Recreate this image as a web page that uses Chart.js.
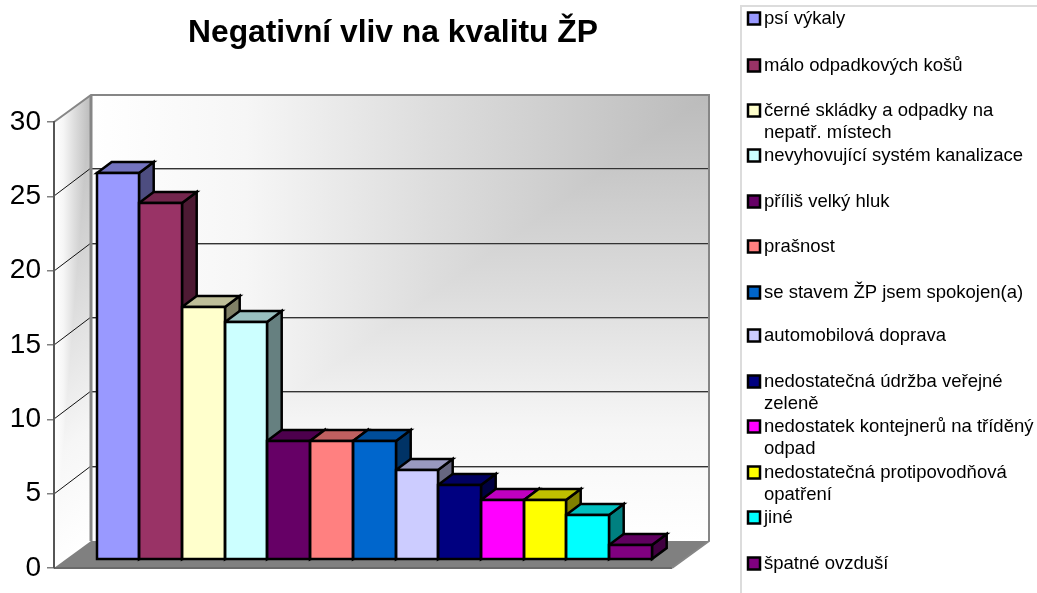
<!DOCTYPE html>
<html lang="cs">
<head>
<meta charset="utf-8">
<title>Negativní vliv na kvalitu ŽP</title>
<script src="https://cdn.jsdelivr.net/npm/chart.js@4/dist/chart.umd.min.js"></script>
<style>
html,body{margin:0;padding:0;background:#fff;overflow:hidden}
canvas{display:block}
</style>
</head>
<body>
<canvas id="c" width="1037" height="593"></canvas>
<script>
const chartTitle = 'Negativní vliv na kvalitu ŽP';
const categories = [''];
const seriesNames = [
  'psí výkaly',
  'málo odpadkových košů',
  'černé skládky a odpadky na\nnepatř. místech',
  'nevyhovující systém kanalizace',
  'příliš velký hluk',
  'prašnost',
  'se stavem ŽP jsem spokojen(a)',
  'automobilová doprava',
  'nedostatečná údržba veřejné\nzeleně',
  'nedostatek kontejnerů na tříděný\nodpad',
  'nedostatečná protipovodňová\nopatření',
  'jiné',
  'špatné ovzduší'
];
const seriesValues = [26, 24, 17, 16, 8, 8, 8, 6, 5, 4, 4, 3, 1];
const seriesColors = ['#9999FF','#993366','#FFFFCC','#CCFFFF','#660066','#FF8080','#0066CC','#CCCCFF','#000080','#FF00FF','#FFFF00','#00FFFF','#800080'];
const legendRowCenters = [18, 65, 110, 155, 201, 246, 292, 335, 381, 426, 472, 517, 563];

// 3D geometry (styling only)
const WALL = {dx: 37, dy: -27};
const BAR_PLANE = {dx: 11.2, dy: -8.3};
const BAR_DEPTH = {dx: 14.7, dy: -11};
const EDGE = 2.5;
const FONT = "'Liberation Sans', Arial, sans-serif";

function shade(hex, f) {
  const n = parseInt(hex.slice(1), 16);
  const c = s => Math.round(((n >> s) & 255) * f);
  return 'rgb(' + c(16) + ',' + c(8) + ',' + c(0) + ')';
}
function poly(ctx, pts) {
  ctx.beginPath();
  pts.forEach((p, i) => i ? ctx.lineTo(p[0], p[1]) : ctx.moveTo(p[0], p[1]));
  ctx.closePath();
}
function wallStops(g) {
  g.addColorStop(0, '#bbbbbb');
  g.addColorStop(0.45, '#dddddd');
  g.addColorStop(0.75, '#f6f6f6');
  g.addColorStop(1, '#ffffff');
  return g;
}
function barEdges(el) {
  return {
    l: Math.round(el.x - el.width / 2 + BAR_PLANE.dx),
    r: Math.round(el.x + el.width / 2 + BAR_PLANE.dx),
    top: Math.round(el.y + BAR_PLANE.dy),
    base: Math.round(el.base + BAR_PLANE.dy)
  };
}

const scene3d = {
  id: 'scene3d',
  afterLayout(chart) {
    chart.titleBlock.left = 0;
    chart.titleBlock.right = 786;
  },
  beforeDraw(chart) {
    const {ctx, chartArea: a, scales} = chart;
    const L = a.left, R = a.right, T = a.top, B = a.bottom;
    const bl = L + WALL.dx, br = R + WALL.dx, bt = T + WALL.dy, bb = B + WALL.dy;

    ctx.save();
    ctx.fillStyle = '#fff';
    ctx.fillRect(0, 0, chart.width, chart.height);

    // back wall: corner gradient from the top right
    ctx.fillStyle = wallStops(ctx.createLinearGradient(0, bt, 0, bb));
    ctx.fillRect(bl, bt, br - bl, bb - bt);
    ctx.save();
    poly(ctx, [[bl, bt], [br, bt], [bl, bb]]);
    ctx.clip();
    ctx.fillStyle = wallStops(ctx.createLinearGradient(br, 0, bl, 0));
    ctx.fillRect(bl, bt, br - bl, bb - bt);
    ctx.restore();

    // left side wall, sheared into place
    ctx.save();
    ctx.transform(1, WALL.dy / WALL.dx, 0, 1, 0, -L * WALL.dy / WALL.dx);
    ctx.fillStyle = wallStops(ctx.createLinearGradient(0, T, 0, B));
    ctx.fillRect(L, T, WALL.dx, B - T);
    ctx.save();
    poly(ctx, [[L, T], [bl, T], [L, B]]);
    ctx.clip();
    ctx.fillStyle = wallStops(ctx.createLinearGradient(bl, 0, L, 0));
    ctx.fillRect(L, T, WALL.dx, B - T);
    ctx.restore();
    ctx.restore();

    // floor
    ctx.fillStyle = '#808080';
    poly(ctx, [[L, B], [R, B], [br, bb], [bl, bb]]);
    ctx.fill();
    ctx.strokeStyle = '#6a6a6a';
    ctx.lineWidth = 2;
    ctx.beginPath(); ctx.moveTo(L, B); ctx.lineTo(R, B); ctx.stroke();

    // gridlines from the value scale
    scales.y.ticks.forEach(t => {
      if (t.value === 0 || t.value === scales.y.max) return;
      const y = Math.round(scales.y.getPixelForValue(t.value));
      const by = y + WALL.dy - 1;
      ctx.strokeStyle = '#111';
      ctx.lineWidth = 1;
      ctx.beginPath(); ctx.moveTo(L, y); ctx.lineTo(bl, by); ctx.stroke();
      ctx.strokeStyle = '#333';
      ctx.beginPath(); ctx.moveTo(bl, by + 0.5); ctx.lineTo(br, by + 0.5); ctx.stroke();
      ctx.strokeStyle = '#a8a8a8';
      ctx.beginPath(); ctx.moveTo(bl, by + 1.5); ctx.lineTo(br, by + 1.5); ctx.stroke();
    });

    // wall edges
    ctx.strokeStyle = '#868686';
    ctx.lineWidth = 2;
    ctx.beginPath();
    ctx.moveTo(L, T); ctx.lineTo(bl, bt); ctx.lineTo(br, bt); ctx.lineTo(br, bb); ctx.lineTo(R, B);
    ctx.stroke();
    ctx.lineWidth = 3;
    ctx.beginPath(); ctx.moveTo(bl, bt); ctx.lineTo(bl, bb); ctx.stroke();
    ctx.restore();
  },
  beforeDatasetsDraw(chart) {
    const {ctx} = chart;
    ctx.save();
    // side and top faces, painted left to right, below the front faces
    chart.data.datasets.forEach((ds, i) => {
      const {l, r, top, base} = barEdges(chart.getDatasetMeta(i).data[0]);
      const col = ds.backgroundColor;
      ctx.lineWidth = EDGE;
      ctx.strokeStyle = '#000';
      ctx.lineJoin = 'miter';
      poly(ctx, [[r, top], [r + BAR_DEPTH.dx, top + BAR_DEPTH.dy], [r + BAR_DEPTH.dx, base + BAR_DEPTH.dy], [r, base]]);
      ctx.fillStyle = shade(col, 0.5);
      ctx.fill(); ctx.stroke();
      poly(ctx, [[l, top], [r, top], [r + BAR_DEPTH.dx, top + BAR_DEPTH.dy], [l + BAR_DEPTH.dx, top + BAR_DEPTH.dy]]);
      ctx.fillStyle = shade(col, 0.75);
      ctx.fill(); ctx.stroke();
    });
    ctx.restore();
    // fronts are drawn by Chart.js inside the bar plane
    ctx.save();
    ctx.translate(BAR_PLANE.dx, BAR_PLANE.dy);
  },
  afterDatasetsDraw(chart) {
    const {ctx} = chart;
    ctx.restore();
    // single shared outline between the touching front faces
    ctx.save();
    ctx.strokeStyle = '#000';
    ctx.lineWidth = EDGE;
    chart.data.datasets.forEach((ds, i) => {
      const {l, r, top, base} = barEdges(chart.getDatasetMeta(i).data[0]);
      ctx.strokeRect(l, top, r - l, base - top);
    });
    ctx.restore();
  },
  afterDraw(chart) {
    const {ctx} = chart;
    ctx.save();
    // legend frame
    ctx.strokeStyle = '#dcdcdc';
    ctx.lineWidth = 2;
    ctx.beginPath();
    ctx.moveTo(741, chart.height); ctx.lineTo(741, 6); ctx.lineTo(chart.width, 6);
    ctx.stroke();
    // legend rows
    ctx.font = '18.5px ' + FONT;
    ctx.textBaseline = 'middle';
    ctx.textAlign = 'left';
    chart.data.datasets.forEach((ds, i) => {
      const y = legendRowCenters[i];
      ctx.fillStyle = ds.backgroundColor;
      ctx.fillRect(748, y - 5.5, 12, 12);
      ctx.strokeStyle = '#000';
      ctx.lineWidth = EDGE;
      ctx.strokeRect(748, y - 5.5, 12, 12);
      ctx.fillStyle = '#000';
      seriesNames[i].split('\n').forEach((line, k) => ctx.fillText(line, 764, y + 0.5 + k * 22.7));
    });
    ctx.restore();
  }
};

new Chart(document.getElementById('c'), {
  type: 'bar',
  data: {
    labels: categories,
    datasets: seriesNames.map((name, i) => ({
      label: name.replace('\n', ' '),
      data: [seriesValues[i]],
      backgroundColor: seriesColors[i],
      borderWidth: 0,
      clip: false,
      categoryPercentage: 0.898,
      barPercentage: 1
    }))
  },
  options: {
    responsive: false,
    animation: false,
    devicePixelRatio: 1,
    layout: {autoPadding: false, padding: {left: 0, right: 365, top: 0, bottom: 25}},
    scales: {
      x: {display: false},
      y: {
        min: 0, max: 30,
        afterFit(s) { s.width = 54; },
        ticks: {stepSize: 5, padding: 6, color: '#000', font: {family: FONT, size: 28}},
        grid: {drawOnChartArea: false, drawTicks: true, tickLength: 7, color: '#808080', lineWidth: 1.5},
        border: {display: true, color: '#555', width: 2}
      }
    },
    plugins: {
      legend: {display: false},
      tooltip: {enabled: false},
      title: {
        display: true,
        text: chartTitle,
        color: '#000',
        font: {family: FONT, size: 31.8, weight: 'bold', lineHeight: 1.2},
        padding: {top: 14, bottom: 69.8}
      }
    }
  },
  plugins: [scene3d]
});
</script>
</body>
</html>
